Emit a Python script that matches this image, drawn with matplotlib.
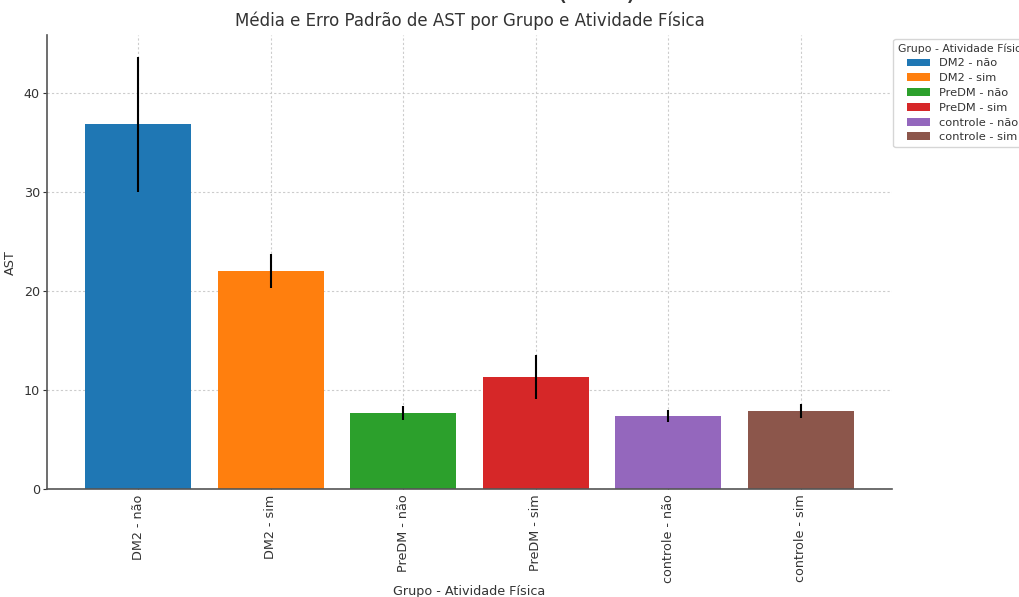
import numpy as np
import matplotlib.pyplot as plt

# Mean AST and standard error per group / physical activity
grupos = ["DM2 - não", "DM2 - sim", "PreDM - não", "PreDM - sim",
          "controle - não", "controle - sim"]
media_ast = [36.8, 22.0, 7.65, 11.3, 7.35, 7.85]
erro_padrao = [6.8, 1.7, 0.7, 2.2, 0.6, 0.7]
cores = ["#1f77b4", "#ff7f0e", "#2ca02c", "#d62728", "#9467bd", "#8c564b"]

plt.rcParams['text.color'] = '#333333'
plt.rcParams['axes.labelcolor'] = '#333333'
plt.rcParams['xtick.color'] = '#333333'
plt.rcParams['ytick.color'] = '#333333'

fig = plt.figure(figsize=(10.2, 5.97), dpi=100)
ax = fig.add_axes([0.046, 0.181, 0.8285, 0.760])

x = np.arange(len(grupos))
for i in range(len(grupos)):
    ax.bar(x[i], media_ast[i], width=0.8, color=cores[i], label=grupos[i],
           yerr=erro_padrao[i], error_kw=dict(ecolor='black', elinewidth=1.5, capsize=0),
           zorder=2)

ax.set_xticks(x)
ax.set_xticklabels(grupos, rotation=90, fontsize=9.2)
ax.tick_params(axis='x', direction='in', length=3, pad=4)
ax.tick_params(axis='y', labelsize=9.2, length=3, pad=2)
ax.set_xlabel("Grupo - Atividade Física", fontsize=9.2, labelpad=1)
ax.set_ylabel("AST", fontsize=9.2)
ax.yaxis.set_label_coords(-0.035, 0.5)
ax.set_title("Média e Erro Padrão de AST por Grupo e Atividade Física", fontsize=12, pad=7)

ax.grid(True, linestyle=(0, (2, 2)), color='#cccccc', linewidth=0.8, zorder=0)
ax.set_axisbelow(True)
for s in ['top', 'right']:
    ax.spines[s].set_visible(False)
for s in ['left', 'bottom']:
    ax.spines[s].set_color('#555555')
    ax.spines[s].set_linewidth(1.2)

ax.legend(title="Grupo - Atividade Física", loc='upper left', bbox_to_anchor=(0.995, 1.005),
          fontsize=8.2, title_fontsize=7.8, labelspacing=0.42)

# larger heading sitting above the top edge
fig.text(0.585, 1.002, "(AST)", ha='center', va='baseline', fontsize=22)

fig.savefig("out.png", dpi=100)
